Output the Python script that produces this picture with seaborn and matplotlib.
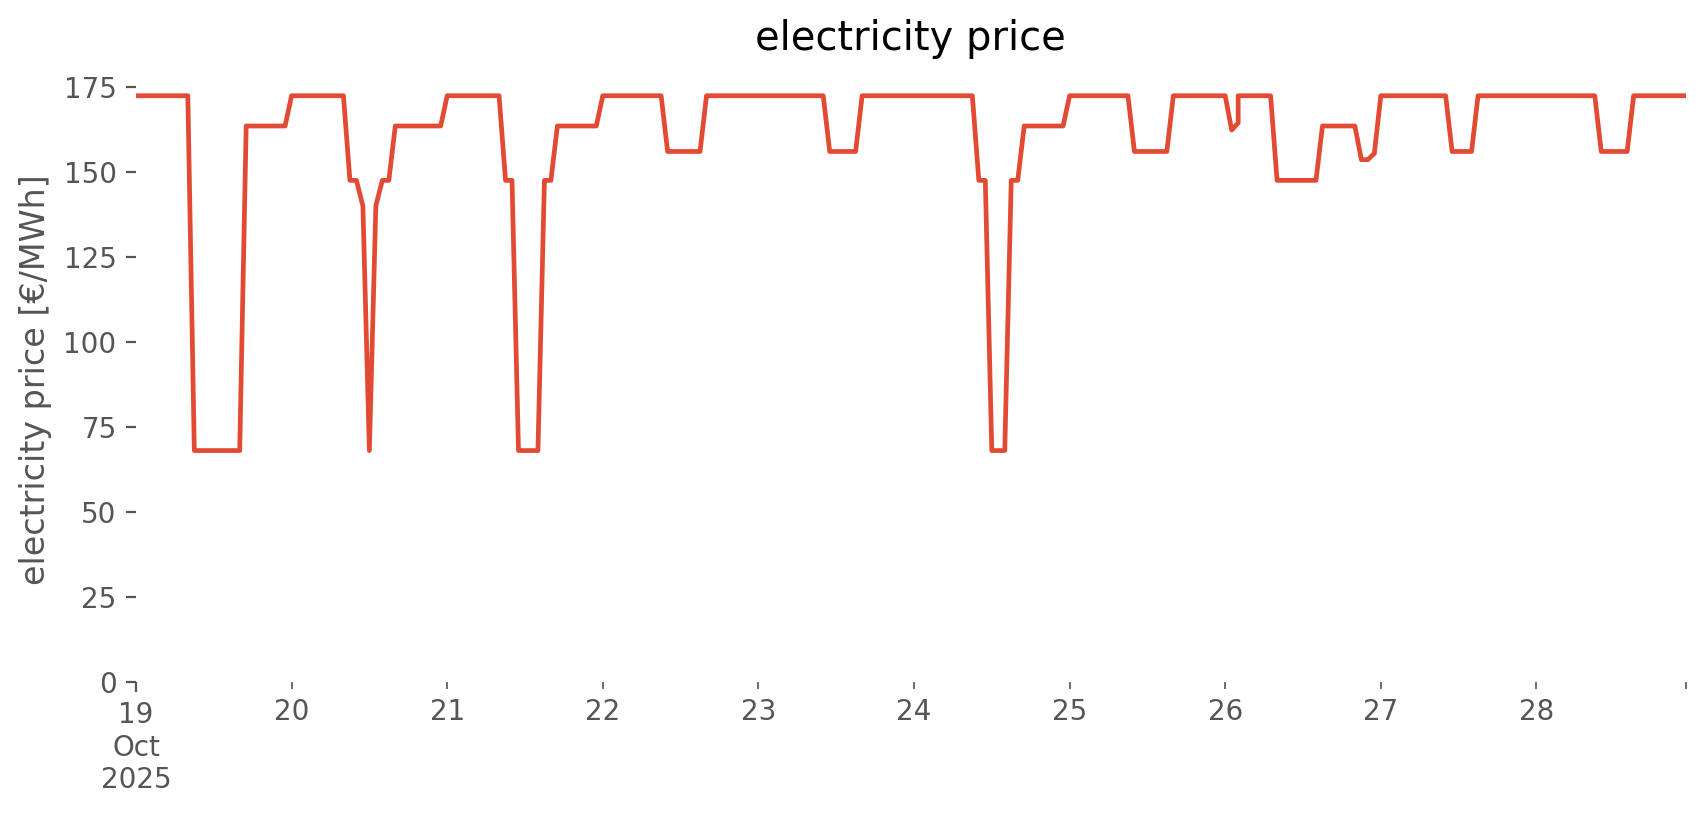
import pandas as pd
import numpy as np
import seaborn as sns
import matplotlib.pyplot as plt
from matplotlib.ticker import MultipleLocator

# hourly prices [EUR/MWh], one list per day (local clock time)
# 26 Oct has 25 values: the 02:00 hour appears twice (end of summer time)
day_19 = [172.4] * 9 + [68.0] * 8 + [163.5] * 7
day_20 = [172.4] * 9 + [147.5, 147.5, 140.0, 68.0, 140.0, 147.5, 147.5] + [163.5] * 8
day_21 = [172.4] * 9 + [147.5, 147.5] + [68.0] * 4 + [147.5, 147.5] + [163.5] * 7
day_22 = [172.4] * 10 + [156.0] * 6 + [172.4] * 8
day_23 = [172.4] * 11 + [156.0] * 5 + [172.4] * 8
day_24 = [172.4] * 10 + [147.5, 147.5] + [68.0] * 3 + [147.5, 147.5] + [163.5] * 7
day_25 = [172.4] * 10 + [156.0] * 6 + [172.4] * 8
day_26 = [172.4, 162.3, 164.4, 172.4] + [172.4] * 5 + [147.5] * 7 + [163.5] * 6 + [153.6, 153.6, 155.4]
day_27 = [172.4] * 11 + [156.0] * 4 + [172.4] * 9
day_28 = [172.4] * 10 + [156.0] * 5 + [172.4] * 9

days = ['2025-10-19', '2025-10-20', '2025-10-21', '2025-10-22', '2025-10-23',
        '2025-10-24', '2025-10-25', '2025-10-26', '2025-10-27', '2025-10-28']
prices = [day_19, day_20, day_21, day_22, day_23, day_24, day_25, day_26, day_27, day_28]

# build the (naive, local) timestamps; 26 Oct repeats hour 2
times = []
values = []
for d, p in zip(days, prices):
    hours = list(range(24))
    if len(p) == 25:
        hours = [0, 1, 2, 2] + list(range(3, 24))
    times += [pd.Timestamp(d) + pd.Timedelta(hours=h) for h in hours]
    values += p

df = pd.DataFrame({'time': times, 'price': values})

plt.style.use('ggplot')
plt.rcParams['font.family'] = ['DejaVu Sans']

fig = plt.figure(figsize=(8.53, 4.075), dpi=200)
ax = fig.add_axes([0.0797, 0.1636, 0.9083, 0.7407])
ax.set_facecolor('white')
ax.grid(False)

sns.lineplot(data=df, x='time', y='price', ax=ax, color='#E24A33',
             linewidth=1.7, estimator=None, sort=False)

ax.set_xlim(df['time'].iloc[0], df['time'].iloc[-1])
ax.set_ylim(bottom=0)
ax.yaxis.set_major_locator(MultipleLocator(25))

# pandas-like date ticks: month/year on the first day, day numbers as minor ticks
ax.set_xticks([pd.Timestamp(days[0])], ['19\nOct\n2025'])
minor_pos = [pd.Timestamp(d) for d in days[1:]] + [df['time'].iloc[-1]]
minor_lab = [pd.Timestamp(d).strftime('%d') for d in days[1:]] + ['']
ax.set_xticks(minor_pos, minor_lab, minor=True)
ax.tick_params(axis='x', which='minor', length=2.5, color='#555555', labelcolor='#555555')
ax.tick_params(axis='both', which='major', length=3.5, color='#555555', labelcolor='#555555')

ax.set_xlabel('')
ax.set_ylabel('electricity price [€/MWh]', color='#555555')
ax.set_title('electricity price', color='black', pad=10)
for s in ax.spines.values():
    s.set_visible(False)

fig.savefig('out.png', dpi=200)
